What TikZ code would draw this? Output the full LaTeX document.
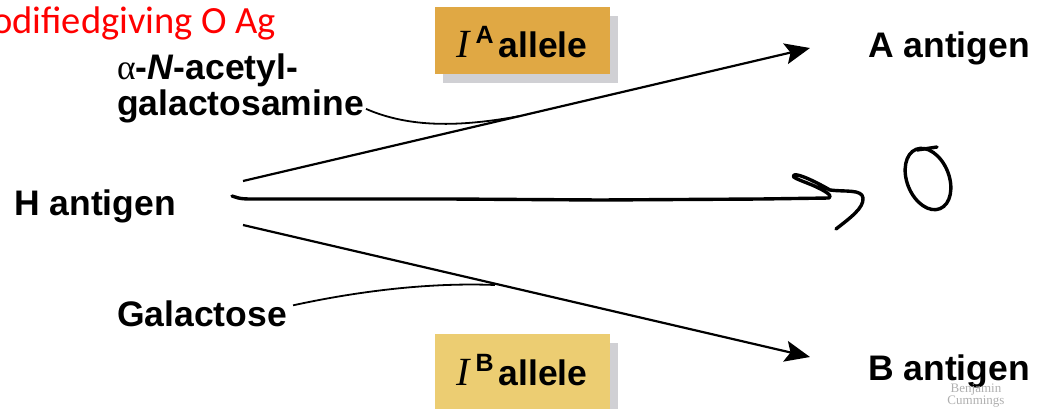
\documentclass[tikz,border=0pt]{standalone}
\usepackage{fontspec}
\setmainfont{Liberation Sans}
\newfontfamily\serifface{Liberation Serif}
\newfontfamily\notefont{Carlito}
\usetikzlibrary{arrows.meta,shadows,shapes.geometric}

\definecolor{alleleAfill}{RGB}{224,168,68}
\definecolor{alleleBfill}{RGB}{236,205,114}
\definecolor{boxshade}{RGB}{208,208,212}
\definecolor{notered}{RGB}{255,0,0}
\definecolor{credit}{RGB}{175,175,175}

\begin{document}
\begin{tikzpicture}[x=1pt,y=-1pt,
  lbl/.style={font=\fontsize{35.5}{40}\selectfont\bfseries, inner sep=0pt, anchor=base west},
  allelebox/.style={minimum width=175pt, inner sep=0pt,
    drop shadow={shadow xshift=8pt, shadow yshift=-9pt, fill=boxshade, opacity=1}},
  thinarrow/.style={line width=2.2pt, -{Stealth[length=25pt,width=21pt,inset=5pt]}},
  sugarlink/.style={line width=1.8pt},
  pen/.style={line width=3.4pt, line cap=round, line join=round},
]
\useasboundingbox (0,0) rectangle (1037,408);

% handwritten note
\node[anchor=base west, inner sep=0pt, text=notered,
      font=\notefont\fontsize{38.5}{38}\selectfont] (note) at (-8,33) {odifiedgiving O Ag};

% allele boxes
\node[allelebox, fill=alleleAfill, minimum height=67pt] (alleleA) at (522.5,40.5) {};
\node[allelebox, fill=alleleBfill, minimum height=76pt] (alleleB) at (522.5,372) {};
\node[lbl] (alleleAtxt) at (456,57)
  {{\serifface\mdseries\itshape\fontsize{40}{40}\selectfont I}\hspace{6pt}\raisebox{14pt}{\fontsize{25}{25}\selectfont A}\hspace{5pt}allele};
\node[lbl] (alleleBtxt) at (456,385)
  {{\serifface\mdseries\itshape\fontsize{40}{40}\selectfont I}\hspace{6pt}\raisebox{14pt}{\fontsize{25}{25}\selectfont B}\hspace{5pt}allele};

% labels
\node[lbl] (galnac1) at (117,79) {{\serifface\mdseries α}-\textit{N}-acetyl-};
\node[lbl] (galnac)  at (117,115) {galactosamine};
\node[lbl] (h)   at (14,215)  {H antigen};
\node[lbl] (gal) at (117,326) {Galactose};
\node[lbl] (a)   at (868,57)  {A antigen};
\node[lbl] (b)   at (868,380) {B antigen};

% publisher credit
\node[text=credit, font=\serifface\fontsize{13}{13}\selectfont, inner sep=0pt] (credit1) at (976,390) {Benjamin};
\node[text=credit, font=\serifface\fontsize{13}{13}\selectfont, inner sep=0pt] (credit2) at (976,402) {Cummings};

% arrow end points
\coordinate (hUp)   at (243,181);
\coordinate (hDown) at (243,225);
\coordinate (toA)   at (810,48);
\coordinate (toB)   at (810,357);
\coordinate (mergeA) at (520,116);
\coordinate (mergeB) at (495,285);

% reactions
\draw[thinarrow] (hUp) -- (toA);
\draw[thinarrow] (hDown) -- (toB);
\draw[sugarlink] (galnac.east) ++(2,3) .. controls (410,128) and (460,127) .. (mergeA);
\draw[sugarlink] (gal.east) ++(6,-8) .. controls (345,294) and (420,282) .. (mergeB);

% handwritten arrow to O
\coordinate (penStart) at (232,196);
\coordinate (penEnd) at (829,198);
\draw[pen] (penStart) .. controls (236,197) and (238,199) .. (250,199)
  -- (450,199) -- (600,200) -- (760,199) -- (penEnd)
  .. controls (833,196) and (826,191) .. (812,185)
  .. controls (800,180) and (790,177) .. (794,175)
  .. controls (798,173) and (818,183) .. (830,190)
  .. controls (845,192) and (862,189) .. (863,198)
  .. controls (864,208) and (850,218) .. (836,229);
\node[draw, pen, ellipse, minimum width=42pt, minimum height=64pt, rotate=22, inner sep=0pt] (o) at (928,179) {};
\draw[pen] (917,150) -- (937,147);
\end{tikzpicture}
\end{document}
